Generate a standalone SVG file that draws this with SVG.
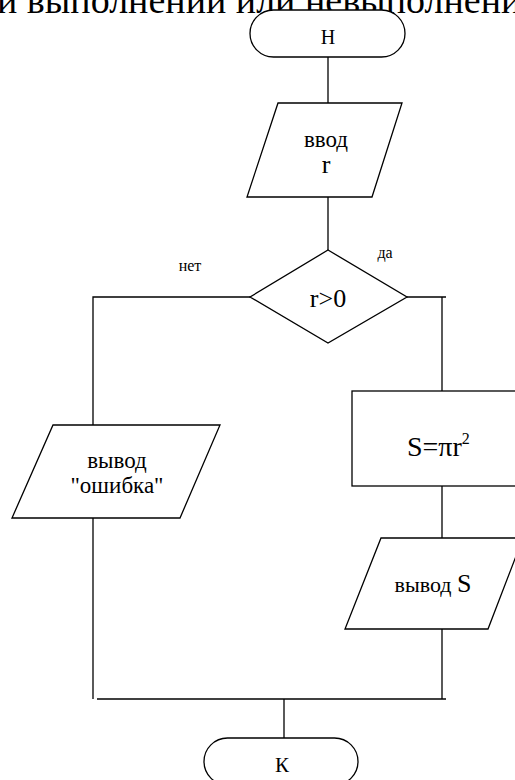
<svg xmlns="http://www.w3.org/2000/svg" width="515" height="780" viewBox="0 0 515 780">
<style>
.s{fill:#fff;stroke:#000;stroke-width:1.3}
.c{fill:none;stroke:#000;stroke-width:1.3}
.t{font-family:"Liberation Serif","Times New Roman",Tinos,"Noto Serif","DejaVu Serif",FreeSerif,"Nimbus Roman",Times,serif;fill:#000;text-anchor:middle}
.l{text-anchor:start}
</style>
<rect width="515" height="780" fill="#fff"/>
<text class="t l" x="-3" y="13" font-size="38">и выполнении или невыполнении усл</text>
<g id="connectors">
<path class="c" d="M328,57V103"/>
<path class="c" d="M328,197V250"/>
<path class="c" d="M250,297H93V425"/>
<path class="c" d="M93,518V699"/>
<path class="c" d="M97,699H446"/>
<path class="c" d="M407,297H446"/>
<path class="c" d="M442,297V391"/>
<path class="c" d="M442,486V538"/>
<path class="c" d="M442,629V699"/>
<path class="c" d="M284,699V738"/>
<text class="t" x="190" y="271" font-size="16">нет</text>
<text class="t" x="385" y="258" font-size="16">да</text>
</g>
<g id="start">
<rect class="s" x="250" y="10" width="155" height="47" rx="23.5"/>
<text class="t" x="328" y="44" font-size="20">Н</text>
</g>
<g id="input">
<polygon class="s" points="278,103 402,103 372,197 247,197"/>
<text class="t" x="326" y="147" font-size="23">ввод</text>
<text class="t" x="326" y="173" font-size="26">r</text>
</g>
<g id="cond">
<polygon class="s" points="328,250 407,297 328,343 250,297"/>
<text class="t" x="328" y="307" font-size="26">r&gt;0</text>
</g>
<g id="err">
<polygon class="s" points="53,425 220,425 180,518 12,518"/>
<text class="t" x="117" y="468" font-size="23">вывод</text>
<text class="t" x="117" y="493" font-size="23">"ошибка"</text>
</g>
<g id="calc">
<rect class="s" x="352" y="391" width="180" height="95"/>
<text class="t l" x="407" y="456" font-size="28">S=πr<tspan font-size="16" dy="-12">2</tspan></text>
</g>
<g id="outS">
<polygon class="s" points="381,538 523,538 488,629 345,629"/>
<text class="t" x="433" y="592" font-size="22">вывод <tspan font-size="26">S</tspan></text>
</g>
<g id="end">
<rect class="s" x="204" y="738" width="154" height="47" rx="23.5"/>
<text class="t" x="282" y="772" font-size="21">К</text>
</g>
</svg>
